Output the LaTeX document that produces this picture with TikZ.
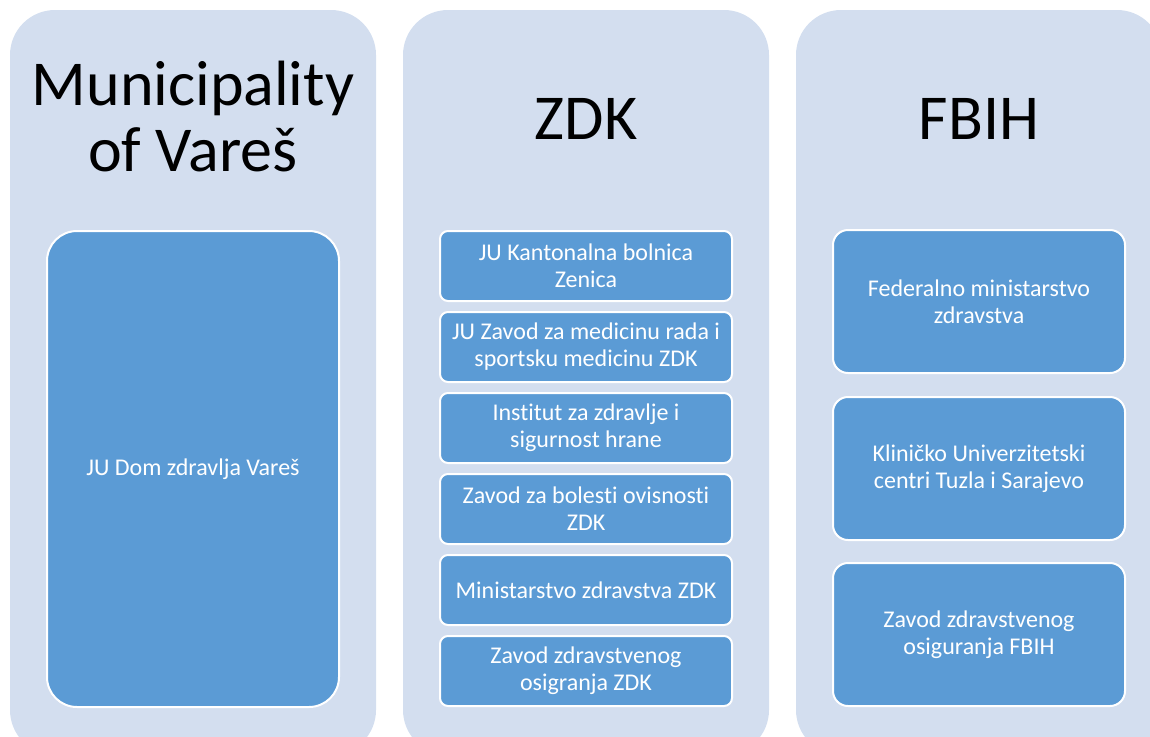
\documentclass[tikz,border=0pt]{standalone}
\usepackage{fontspec}
\setmainfont{Carlito}[Ligatures=NoCommon]
\definecolor{colbg}{RGB}{211,222,239}
\definecolor{boxblue}{RGB}{91,155,213}
\begin{document}
\begin{tikzpicture}[x=1pt,y=-1pt,
  column/.style={fill=colbg,rounded corners=45pt,minimum width=366pt,minimum height=745pt,inner sep=0pt},
  head/.style={font=\fontsize{64}{66}\selectfont,align=center,text=black},
  item/.style={draw=white,line width=2pt,fill=boxblue,text=white,align=center,
    font=\fontsize{24}{27}\selectfont,minimum width=292pt,inner sep=0pt},
  smallitem/.style={item,rounded corners=8pt,minimum height=70pt},
  bigitem/.style={item,rounded corners=15pt,minimum height=143pt}]
\useasboundingbox (0,0) rectangle (1150,736);

% three columns
\node[column] (vares) at (193,382.5) {};
\node[column] (zdk) at (586,382.5) {};
\node[column] (fbih) at (979,382.5) {};

\node[head] (varesT) at (193,117) {Municipality\\of Vareš};
\node[head] (zdkT) at (586,119) {ZDK};
\node[head] (fbihT) at (979,119) {FBIH};

% municipality
\node[item,rounded corners=30pt,minimum height=476pt] (dom) at (193,469) {JU Dom zdravlja Vareš};

% canton
\node[smallitem] (bolnica) at (586,266) {JU Kantonalna bolnica\\Zenica};
\node[smallitem] (rad) at (586,347) {JU Zavod za medicinu rada i\\sportsku medicinu ZDK};
\node[smallitem] (hrana) at (586,428) {Institut za zdravlje i\\sigurnost hrane};
\node[smallitem] (ovisnost) at (586,509) {Zavod za bolesti ovisnosti\\ZDK};
\node[smallitem] (minzdk) at (586,590) {Ministarstvo zdravstva ZDK};
\node[smallitem] (osigzdk) at (586,671) {Zavod zdravstvenog\\osigranja ZDK};

% federation
\node[bigitem] (minfed) at (979,301.5) {Federalno ministarstvo\\zdravstva};
\node[bigitem] (kuc) at (979,468.5) {Kliničko Univerzitetski\\centri Tuzla i Sarajevo};
\node[bigitem] (osigfed) at (979,634.5) {Zavod zdravstvenog\\osiguranja FBIH};
\end{tikzpicture}
\end{document}
